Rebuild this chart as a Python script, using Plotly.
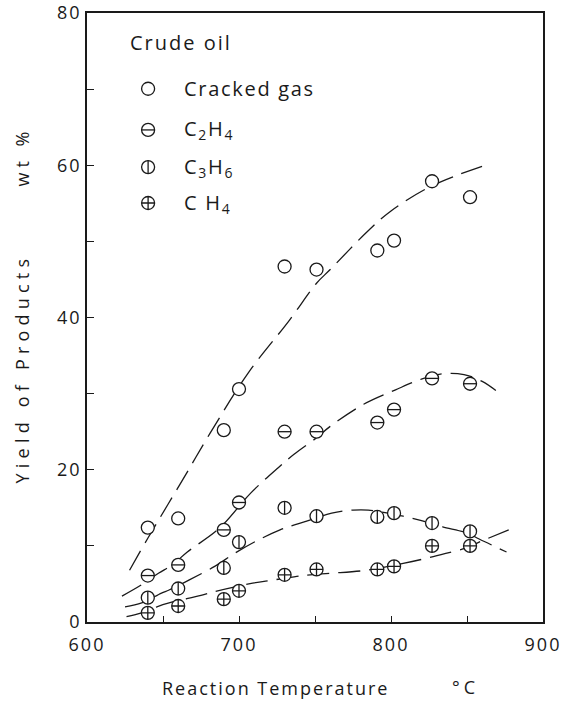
import plotly.graph_objects as go

# ---- measured data (reaction temperature in deg C, yield in wt %) ----
temps = [640, 660, 690, 700, 730, 751, 791, 802, 827, 852]
cracked_gas = [12.4, 13.6, 25.2, 30.6, 46.7, 46.3, 48.8, 50.1, 57.9, 55.8]
c2h4 = [6.1, 7.5, 12.1, 15.7, 25.0, 25.0, 26.2, 27.9, 32.0, 31.3]
c3h6 = [3.2, 4.4, 7.1, 10.5, 15.0, 13.9, 13.8, 14.3, 13.0, 11.9]
ch4 = [1.2, 2.1, 3.0, 4.1, 6.2, 6.9, 6.9, 7.3, 10.0, 10.0]

# ---- fitted (hand-drawn) curves ----
gas_fit_x = [628, 640, 663, 681, 706, 733, 751, 760, 785, 800, 827, 862]
gas_fit_y = [6.8, 11.0, 18.7, 24.8, 32.7, 39.6, 44.5, 46.3, 51.4, 54.0, 57.3, 60.0]
c2h4_fit_x = [623, 636, 647, 656, 666, 687, 708, 726, 736, 751, 760, 782, 803, 820, 834, 848, 860, 869]
c2h4_fit_y = [3.4, 4.9, 6.4, 7.5, 9.2, 12.3, 17.0, 20.3, 22.0, 24.2, 25.7, 28.6, 30.5, 31.9, 32.6, 32.5, 31.6, 30.4]
c3h6_fit_x = [625, 636, 649, 654, 667, 684, 697, 711, 727, 737, 747, 761, 775, 785, 808, 826, 834, 850, 858, 876]
c3h6_fit_y = [2.0, 2.5, 3.8, 4.2, 5.5, 7.3, 9.0, 10.6, 12.1, 12.8, 13.4, 14.3, 14.7, 14.7, 13.9, 13.0, 12.5, 11.7, 10.9, 9.2]
ch4_fit_x = [626, 636, 646, 654, 675, 684, 709, 722, 738, 747, 760, 784, 808, 824, 836, 849, 858, 880]
ch4_fit_y = [0.7, 1.2, 2.0, 2.5, 3.5, 4.0, 5.1, 5.5, 6.0, 6.2, 6.4, 6.8, 7.7, 8.4, 9.0, 9.7, 10.5, 12.3]

# ---- axis ticks ----
x_tickvals = [600, 700, 800, 900]
x_ticktext = ["600", "700", "800", "900"]
x_minor_vals = [650, 750, 850]
y_tickvals = [0, 20, 40, 60, 80]
y_ticktext = ["0", "20", "40", "60", "80"]
y_minor_vals = [10, 30, 50, 70]

# ---- legend ----
legend_title = "Crude oil"
legend_labels = ["Cracked gas", "C<sub>2</sub>H<sub>4</sub>", "C<sub>3</sub>H<sub>6</sub>", "C H<sub>4</sub>"]

FONT = "Open Sans, Liberation Sans, sans-serif"
INK = "#1a1a1a"


def sp(text, ls):
    return f'<span style="letter-spacing:{ls}px">{text}</span>'


fig = go.Figure()

DASH = "22px,9px"
for fx, fy in [(gas_fit_x, gas_fit_y), (c2h4_fit_x, c2h4_fit_y),
               (c3h6_fit_x, c3h6_fit_y), (ch4_fit_x, ch4_fit_y)]:
    fig.add_trace(go.Scatter(x=fx, y=fy, mode="lines", line_shape="spline",
                             line=dict(color=INK, width=1.3, dash=DASH),
                             hoverinfo="skip", showlegend=False))

MS = 13
LW = 1.3
bar = MS / 1.4
circle_marker = dict(symbol="circle", size=MS, color="white", line=dict(color=INK, width=LW))
cross_marker = dict(symbol="circle-cross", size=MS, color="white", line=dict(color=INK, width=LW))
ew_marker = dict(symbol="line-ew", size=bar, color=INK, line=dict(color=INK, width=LW))
ns_marker = dict(symbol="line-ns", size=bar, color=INK, line=dict(color=INK, width=LW))

# data markers
fig.add_trace(go.Scatter(x=temps, y=cracked_gas, mode="markers", marker=circle_marker, showlegend=False))
fig.add_trace(go.Scatter(x=temps, y=c2h4, mode="markers", marker=circle_marker, showlegend=False))
fig.add_trace(go.Scatter(x=temps, y=c2h4, mode="markers", marker=ew_marker, showlegend=False))
fig.add_trace(go.Scatter(x=temps, y=c3h6, mode="markers", marker=circle_marker, showlegend=False))
fig.add_trace(go.Scatter(x=temps, y=c3h6, mode="markers", marker=ns_marker, showlegend=False))
fig.add_trace(go.Scatter(x=temps, y=ch4, mode="markers", marker=cross_marker, showlegend=False))

# custom legend symbols on an overlay 0..1 axis
lx = 0.134
ly = [0.8756, 0.808, 0.747, 0.688]
fig.add_trace(go.Scatter(x=[lx] * 3, y=ly[:3], mode="markers", marker=circle_marker,
                         xaxis="x2", yaxis="y2", showlegend=False, hoverinfo="skip"))
fig.add_trace(go.Scatter(x=[lx], y=[ly[1]], mode="markers", marker=ew_marker,
                         xaxis="x2", yaxis="y2", showlegend=False, hoverinfo="skip"))
fig.add_trace(go.Scatter(x=[lx], y=[ly[2]], mode="markers", marker=ns_marker,
                         xaxis="x2", yaxis="y2", showlegend=False, hoverinfo="skip"))
fig.add_trace(go.Scatter(x=[lx], y=[ly[3]], mode="markers", marker=cross_marker,
                         xaxis="x2", yaxis="y2", showlegend=False, hoverinfo="skip"))

annotations = []
annotations.append(dict(text=sp(legend_title, 2), x=0.0905, y=0.952, xref="paper", yref="paper",
                        xanchor="left", yanchor="middle", showarrow=False,
                        font=dict(family=FONT, size=20, color=INK)))
for lab, yy in zip(legend_labels, ly):
    annotations.append(dict(text=sp(lab, 1.7), x=0.2087, y=yy, xref="paper", yref="paper",
                            xanchor="left", yanchor="middle", showarrow=False,
                            font=dict(family=FONT, size=20, color=INK)))
# axis titles
annotations.append(dict(text=sp("Reaction Temperature", 2), x=0.4124, y=-0.109, xref="paper", yref="paper",
                        xanchor="center", yanchor="middle", showarrow=False,
                        font=dict(family=FONT, size=18, color=INK)))
annotations.append(dict(text=sp("°C", 4), x=0.830, y=-0.106, xref="paper", yref="paper",
                        xanchor="center", yanchor="middle", showarrow=False,
                        font=dict(family=FONT, size=18, color=INK)))
annotations.append(dict(text=sp("Yield of Products", 5.2), x=-0.1417, y=0.417, xref="paper", yref="paper",
                        xanchor="center", yanchor="middle", showarrow=False, textangle=-90,
                        font=dict(family=FONT, size=18, color=INK)))
annotations.append(dict(text=sp("wt %", 5), x=-0.1417, y=0.765, xref="paper", yref="paper",
                        xanchor="center", yanchor="middle", showarrow=False, textangle=-90,
                        font=dict(family=FONT, size=18, color=INK)))

axis_common = dict(showline=True, linecolor=INK, linewidth=1.8, mirror=True, automargin=False,
                   showgrid=False, zeroline=False, ticks="inside", tickcolor=INK,
                   tickwidth=1.2, tickfont=dict(family=FONT, size=18, color=INK))

fig.update_layout(
    template="none",
    width=568, height=701,
    margin=dict(l=87, r=25, t=13, b=79),
    paper_bgcolor="white", plot_bgcolor="white",
    showlegend=False,
    xaxis=dict(range=[600, 900], tickmode="array", tickvals=x_tickvals,
               ticktext=[sp(t, 2) for t in x_ticktext], ticklen=6, ticklabelstandoff=5,
               minor=dict(tickmode="array", tickvals=x_minor_vals, ticks="inside", ticklen=6,
                          tickwidth=1.2, tickcolor=INK, showgrid=False),
               **axis_common),
    yaxis=dict(range=[0, 80], tickmode="array", tickvals=y_tickvals,
               ticktext=[sp(t, 2) for t in y_ticktext], ticklen=7,
               minor=dict(tickmode="array", tickvals=y_minor_vals, ticks="inside", ticklen=7,
                          tickwidth=1.2, tickcolor=INK, showgrid=False),
               **axis_common),
    xaxis2=dict(overlaying="x", range=[0, 1], visible=False, automargin=False),
    yaxis2=dict(overlaying="y", range=[0, 1], visible=False, automargin=False),
    annotations=annotations,
)

fig.write_html("out.html")
